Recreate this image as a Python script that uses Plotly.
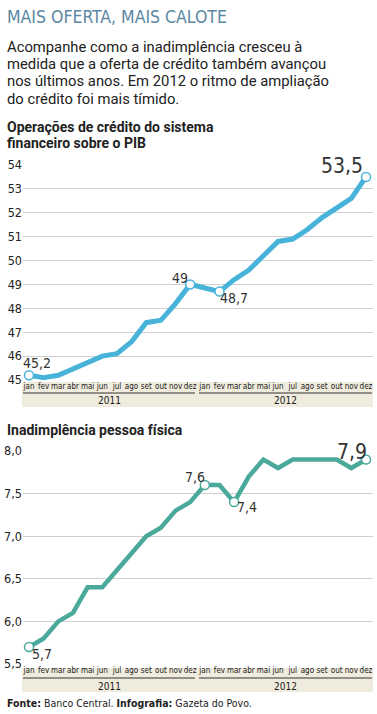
import plotly.graph_objects as go

W, H = 377, 714

months = ["jan", "fev", "mar", "abr", "mai", "jun", "jul", "ago", "set", "out", "nov", "dez"] * 2
years = ["2011", "2012"]

credito = [45.2, 45.1, 45.2, 45.45, 45.7, 46.0, 46.1, 46.6, 47.4, 47.5, 48.2, 49.0,
           48.85, 48.7, 49.2, 49.6, 50.2, 50.8, 50.9, 51.3, 51.8, 52.2, 52.6, 53.5]
inadimplencia = [5.7, 5.8, 6.0, 6.1, 6.4, 6.4, 6.6, 6.8, 7.0, 7.1, 7.3, 7.4,
                 7.6, 7.6, 7.4, 7.7, 7.9, 7.8, 7.9, 7.9, 7.9, 7.9, 7.8, 7.9]

credito_ticks = [45, 46, 47, 48, 49, 50, 51, 52, 53, 54]
inad_ticks = [5.5, 6.0, 6.5, 7.0, 7.5, 8.0]

credito_marked = [0, 11, 13, 23]
inad_marked = [0, 12, 14, 23]

BLUE = "#47b3d9"
TEAL = "#4aa99b"
NARROW = "Liberation Sans Narrow, DejaVu Sans Condensed, Arial Narrow, sans-serif"
SANS = "Roboto, Noto Sans, sans-serif"


def py(px):
    return 1 - px / H


def fmt(v):
    s = f"{v:.1f}".replace(".", ",")
    return s[:-2] if s.endswith(",0") else s


x = list(range(24))
PX0, STEP = 29, 14.652
xr = [(23 - PX0) / STEP, (373 - PX0) / STEP]

fig = go.Figure()

fig.add_trace(go.Scatter(x=x, y=credito, mode="lines", line=dict(color=BLUE, width=5),
                         xaxis="x", yaxis="y", hoverinfo="skip", cliponaxis=False))
fig.add_trace(go.Scatter(x=[x[i] for i in credito_marked], y=[credito[i] for i in credito_marked],
                         mode="markers", marker=dict(size=9, color="white", line=dict(color=BLUE, width=1.5)),
                         xaxis="x", yaxis="y", cliponaxis=False))
fig.add_trace(go.Scatter(x=x, y=inadimplencia, mode="lines", line=dict(color=TEAL, width=4.5),
                         xaxis="x2", yaxis="y2", hoverinfo="skip", cliponaxis=False))
fig.add_trace(go.Scatter(x=[x[i] for i in inad_marked], y=[inadimplencia[i] for i in inad_marked],
                         mode="markers", marker=dict(size=9, color="white", line=dict(color=TEAL, width=1.5)),
                         xaxis="x2", yaxis="y2", cliponaxis=False))

axis_x = dict(range=xr, domain=[23 / W, 373 / W], tickmode="array", tickvals=x, ticktext=months,
              tickangle=0, automargin=False,
              tickfont=dict(family=NARROW, size=8, color="#222"), showgrid=False, zeroline=False,
              showline=False, ticks="", fixedrange=True)
fig.update_layout(
    width=W, height=H, margin=dict(l=0, r=0, t=0, b=0, autoexpand=False),
    paper_bgcolor="white", plot_bgcolor="white", showlegend=False,
    separators=", ",
    xaxis=dict(axis_x, anchor="y"),
    xaxis2=dict(axis_x, anchor="y2"),
    yaxis=dict(range=[45, 54], domain=[py(380), py(165)], tickvals=credito_ticks, automargin=False,
               ticktext=[str(t) for t in credito_ticks], showgrid=True, gridcolor="#cfcfcf", gridwidth=1,
               zeroline=False, ticks="", tickfont=dict(family=NARROW, size=12.5, color="#222"),
               anchor="x", fixedrange=True),
    yaxis2=dict(range=[5.5, 8.0], domain=[py(664), py(451)], tickvals=inad_ticks, automargin=False,
                ticktext=[f"{t:.1f}".replace(".", ",") for t in inad_ticks], showgrid=True,
                gridcolor="#cfcfcf", gridwidth=1, zeroline=False, ticks="",
                tickfont=dict(family=NARROW, size=12.5, color="#222"), anchor="x2", fixedrange=True),
)

shapes = []
for top, bot, ul in [(382, 407, 393), (668, 692, 678)]:
    shapes.append(dict(type="rect", xref="paper", yref="paper", x0=22 / W, x1=373 / W,
                       y0=py(bot), y1=py(top), fillcolor="#efebdd", line=dict(width=0), layer="below"))
    for a, b in [(-0.41, 11.33), (11.6, 23.4)]:
        xref = "x" if top < 500 else "x2"
        shapes.append(dict(type="line", xref=xref, yref="paper", x0=a, x1=b, y0=py(ul), y1=py(ul),
                           line=dict(color="#333", width=1)))
fig.update_layout(shapes=shapes)

ann = []
ann.append(dict(text="MAIS OFERTA, MAIS CALOTE", x=5 / W, y=py(17), xref="paper", yref="paper",
                xanchor="left", yanchor="middle", showarrow=False,
                font=dict(family=NARROW, size=17.5, color="#5b88a2")))
sub = ["Acompanhe como a inadimplência cresceu à",
       "medida que a oferta de crédito também avançou",
       "nos últimos anos. Em 2012 o ritmo de ampliação",
       "do crédito foi mais tímido."]
for i, line in enumerate(sub):
    ann.append(dict(text=line, x=5 / W, y=py(47 + 17.2 * i), xref="paper", yref="paper",
                    xanchor="left", yanchor="middle", showarrow=False,
                    font=dict(family=SANS, size=14.8, color="#222")))
for txt, yc in [("Operações de crédito do sistema", 127), ("financeiro sobre o PIB", 143),
                ("Inadimplência pessoa física", 430)]:
    ann.append(dict(text=f"<b>{txt}</b>", x=5 / W, y=py(yc), xref="paper", yref="paper",
                    xanchor="left", yanchor="middle", showarrow=False,
                    font=dict(family=SANS, size=14, color="#222")))
for k, (xa, yc) in enumerate([("x", 400), ("x2", 686)]):
    for j, yl in enumerate(years):
        ann.append(dict(text=yl, x=5.5 + 12 * j, y=py(yc), xref=xa, yref="paper", showarrow=False,
                        xanchor="center", yanchor="middle", font=dict(family=NARROW, size=10, color="#222")))

cred_shift = {0: (8, 12, 14), 11: (-10, 6, 14), 13: (15, -6, 14), 23: (-24, 11, 21)}
for i in credito_marked:
    dx, dy, fs = cred_shift[i]
    ann.append(dict(text=fmt(credito[i]), x=x[i], y=credito[i], xref="x", yref="y", showarrow=False,
                    xshift=dx, yshift=dy, xanchor="center", yanchor="middle",
                    font=dict(family=NARROW, size=fs, color="#333")))
inad_shift = {0: (13, -7, 14), 12: (-10, 8, 14), 14: (13, -5, 14), 23: (-14, 8, 21)}
for i in inad_marked:
    dx, dy, fs = inad_shift[i]
    ann.append(dict(text=fmt(inadimplencia[i]), x=x[i], y=inadimplencia[i], xref="x2", yref="y2",
                    showarrow=False, xshift=dx, yshift=dy, xanchor="center", yanchor="middle",
                    font=dict(family=NARROW, size=fs, color="#333")))

ann.append(dict(text="<b>Fonte:</b> Banco Central. <b>Infografia:</b> Gazeta do Povo.", x=5 / W, y=py(703),
                xref="paper", yref="paper", xanchor="left", yanchor="middle", showarrow=False,
                font=dict(family=NARROW, size=10.5, color="#222")))
fig.update_layout(annotations=ann)

fig.write_html("out.html", config={"displayModeBar": False},
               post_script="document.body.style.margin='0';document.body.style.overflow='hidden';")
